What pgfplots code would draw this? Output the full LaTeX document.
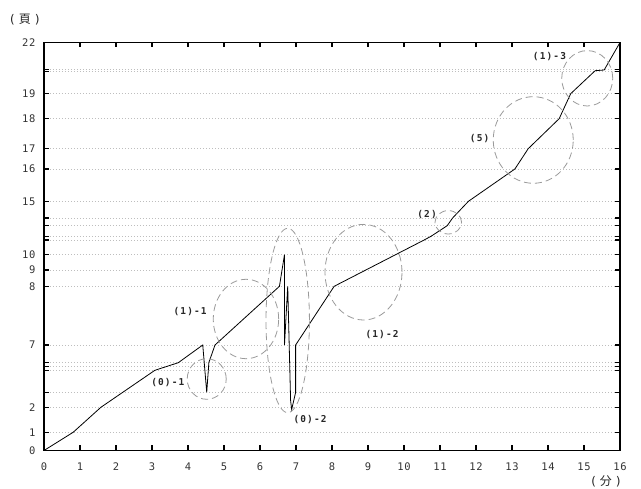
\documentclass[border=0pt]{standalone}
\usepackage{fontspec}
\usepackage{pgfplots}
\pgfplotsset{compat=1.18}
\newfontfamily\monof[LetterSpace=8]{DejaVu Sans Mono}
\newfontfamily\monob[LetterSpace=12]{DejaVu Sans Mono}
\newfontfamily\cjk{Noto Sans CJK JP}
\definecolor{gridc}{HTML}{BEBEBE}
\definecolor{ellc}{HTML}{9A9A9A}
\newcommand{\cjkunit}[1]{{\monof\fontsize{12}{14}\selectfont(}\hspace{3bp}{\cjk\fontsize{12}{14}\selectfont #1}\hspace{3bp}{\monof\fontsize{12}{14}\selectfont)}}
\begin{document}
\begin{tikzpicture}
\path[use as bounding box] (-44bp,-38.5bp) rectangle (597bp,450.5bp);
\begin{axis}[
  at={(0,0)}, anchor=south west,
  scale only axis, width=576bp, height=408bp,
  xmin=0, xmax=16, ymin=0, ymax=408,
  clip=false,
  axis line style={line width=1.6bp},
  tick style={line width=1.4bp, black},
  tick align=inside,
  major tick length=5bp,
  xtick={0,1,...,16},
  ytick={0,18.2,43.2,58.2,80.2,84.2,87.8,105.5,164.2,180.5,195.8,210.5,214.2,224.8,232.5,249.2,281.5,301.8,331.8,356.8,378.8,380.8,408},
  yticklabels={0,1,2,,,,,7,8,9,10,,,,,15,16,17,18,19,,,22},
  ymajorgrids,
  grid style={gridc, line width=0.9bp, dash pattern=on 1bp off 2bp},
  /pgf/number format/assume math mode=true,
  tick label style={font=\monof\fontsize{10.5}{12}\selectfont, text=black!80},
  xticklabel style={yshift=-9bp},
  yticklabel style={xshift=-5bp},
]
\addplot[black, line width=0.8bp, mark=none] coordinates {
(0,0) (0.81,18.2) (1.58,43.2) (3.08,80.2) (3.73,87.8) (4.41,105.5)
(4.52,58.2) (4.58,88) (4.75,105.5) (6.54,164.2) (6.68,195.8) (6.68,105.5)
(6.77,164.2) (6.85,50) (6.88,41) (6.99,58.2) (6.99,105.5) (8.06,164.2)
(10.56,210.5) (10.75,214.2) (11.2,224.8) (11.35,232.5) (11.79,249.2)
(13.08,281.5) (13.45,301.8) (14.31,331.8) (14.63,356.8) (15.31,379.8)
(15.56,380.5) (16,408)
};
\begin{scope}[ellc, line width=0.8bp, dash pattern=on 7bp off 4bp]
\draw (axis cs:4.52,71.5) ellipse [x radius=19.5bp, y radius=20.3bp];
\draw (axis cs:5.61,131.5) ellipse [x radius=32.7bp, y radius=39.7bp];
\draw (axis cs:6.77,130) ellipse [x radius=21.7bp, y radius=92.2bp];
\draw (axis cs:8.875,178.3) ellipse [x radius=38.5bp, y radius=47.8bp];
\draw (axis cs:11.23,228.2) ellipse [x radius=13.3bp, y radius=11.7bp];
\draw (axis cs:13.59,310.5) ellipse [x radius=40bp, y radius=43.3bp];
\draw (axis cs:15.09,372.2) ellipse [x radius=25.5bp, y radius=27.7bp];
\end{scope}
\begin{scope}[every node/.style={font=\monob\bfseries\fontsize{9.5}{11}\selectfont, text=black!85, inner sep=0pt}]
\node at (axis cs:3.44,67.5) {(0)-1};
\node at (axis cs:4.06,138.5) {(1)-1};
\node at (axis cs:7.39,30.5) {(0)-2};
\node at (axis cs:9.39,115.5) {(1)-2};
\node at (axis cs:10.64,235.5) {(2)};
\node at (axis cs:12.1,311.5) {(5)};
\node at (axis cs:14.04,393.8) {(1)-3};
\end{scope}
\node[text=black!85, inner sep=0pt] at (axis cs:-0.53,430.5) {\cjkunit{頁}};
\node[text=black!85, inner sep=0pt] at (axis cs:15.61,-30.5) {\cjkunit{分}};
\end{axis}
\end{tikzpicture}
\end{document}
